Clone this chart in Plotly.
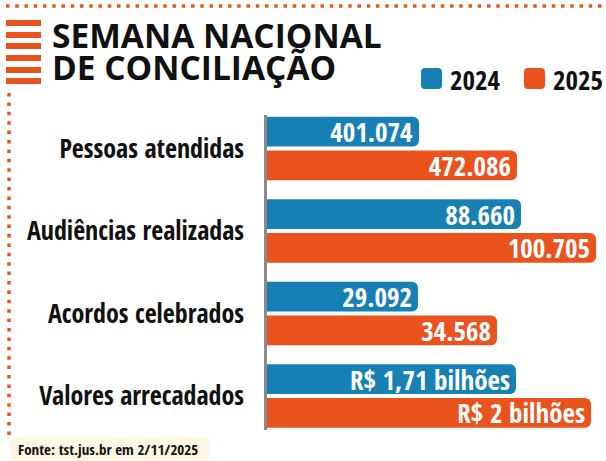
import plotly.graph_objects as go

W, H = 606, 461

# ---- data ----
categories = ["Pessoas atendidas", "Audiências realizadas", "Acordos celebrados", "Valores arrecadados"]
series_names = ["2024", "2025"]
labels_2024 = ["401.074", "88.660", "29.092", "R$ 1,71 bilhões"]
labels_2025 = ["472.086", "100.705", "34.568", "R$ 2 bilhões"]
# visual bar lengths as drawn in the infographic (not to a common scale)
bars_2024 = [152, 254, 151, 249]
bars_2025 = [250, 329, 230, 324]

BLUE = "#1780b5"
ORANGE = "#ea531e"
NARROW = "Noto Sans Condensed, Open Sans Condensed, Liberation Sans Narrow, DejaVu Sans Condensed, sans-serif"


def px(x):
    return x / W


def py(y):
    return 1 - y / H


def rrect(x0, y0, x1, y1, r):
    pts = [
        f"M {px(x0 + r)},{py(y0)}",
        f"L {px(x1 - r)},{py(y0)}",
        f"Q {px(x1)},{py(y0)} {px(x1)},{py(y0 + r)}",
        f"L {px(x1)},{py(y1 - r)}",
        f"Q {px(x1)},{py(y1)} {px(x1 - r)},{py(y1)}",
        f"L {px(x0 + r)},{py(y1)}",
        f"Q {px(x0)},{py(y1)} {px(x0)},{py(y1 - r)}",
        f"L {px(x0)},{py(y0 + r)}",
        f"Q {px(x0)},{py(y0)} {px(x0 + r)},{py(y0)}",
        "Z",
    ]
    return " ".join(pts)


fig = go.Figure()
for name, vals, labs, col in [
    (series_names[0], bars_2024, labels_2024, BLUE),
    (series_names[1], bars_2025, labels_2025, ORANGE),
]:
    fig.add_trace(go.Bar(
        y=categories, x=vals, orientation="h", name=name,
        marker=dict(color=col, cornerradius=6, line=dict(width=0)),
        text=labs, textposition="inside", insidetextanchor="end",
        constraintext="none", cliponaxis=False,
        textfont=dict(family=NARROW, size=27, color="white", weight=700),
        showlegend=False, hoverinfo="skip",
    ))

shapes = []
# dotted border
shapes.append(dict(type="line", xref="paper", yref="paper", x0=px(6), x1=px(602), y0=py(6), y1=py(6),
                   line=dict(color=ORANGE, width=3.5, dash="3.5px,5.75px")))
shapes.append(dict(type="line", xref="paper", yref="paper", x0=px(9), x1=px(9), y0=py(93), y1=py(437),
                   line=dict(color=ORANGE, width=3.5, dash="3.5px,5.9px")))
# title stripes
for yy in [20, 32, 43, 55, 67, 78]:
    shapes.append(dict(type="rect", xref="paper", yref="paper", x0=px(6), x1=px(41), y0=py(yy), y1=py(yy + 6),
                       fillcolor=ORANGE, line=dict(width=0)))
# legend swatches
for x0, col in [(421, BLUE), (524, ORANGE)]:
    shapes.append(dict(type="path", xref="paper", yref="paper", path=rrect(x0, 68, x0 + 21, 89, 4),
                       fillcolor=col, line=dict(width=0)))
# source box
shapes.append(dict(type="path", xref="paper", yref="paper", path=rrect(10, 437, 210, 462, 7),
                   fillcolor="#fdf7e3", line=dict(width=0), layer="below"))

TITLE_FONT = dict(family="Open Sans", size=33.5, color="#111111", weight=800)
annotations = [
    dict(text="<b>SEMANA NACIONAL</b>", x=px(50), y=py(34.5), xanchor="left", yanchor="middle",
         font=TITLE_FONT, showarrow=False, xref="paper", yref="paper"),
    dict(text="<b>DE CONCILIAÇÃO</b>", x=px(50), y=py(66.5), xanchor="left", yanchor="middle",
         font=TITLE_FONT, showarrow=False, xref="paper", yref="paper"),
    dict(text=series_names[0], x=px(448), y=py(79), xanchor="left", yanchor="middle",
         font=dict(family=NARROW, size=27, color="#111111"), showarrow=False,
         xref="paper", yref="paper"),
    dict(text=series_names[1], x=px(551), y=py(79), xanchor="left", yanchor="middle",
         font=dict(family=NARROW, size=27, color="#111111"), showarrow=False,
         xref="paper", yref="paper"),
    dict(text="Fonte: tst.jus.br em 2/11/2025", x=px(16), y=py(449), xanchor="left", yanchor="middle",
         font=dict(family=NARROW, size=15, color="#111111"), showarrow=False,
         xref="paper", yref="paper"),
]

fig.update_layout(
    width=W, height=H, margin=dict(l=0, r=0, t=0, b=0, autoexpand=False),
    paper_bgcolor="white", plot_bgcolor="white",
    barmode="group", bargap=0.18, bargroupgap=0.118,
    uniformtext=dict(minsize=27, mode="show"),
    xaxis=dict(domain=[px(267), 1], range=[0, 339], visible=False, fixedrange=True, automargin=False),
    yaxis=dict(domain=[py(430), py(115)], type="category", categoryorder="array", categoryarray=categories,
               range=[3.412, -0.406], showline=True, linecolor="#8a8a8a", linewidth=2.5,
               showgrid=False, zeroline=False, ticks="", ticklabelstandoff=15, automargin=False,
               tickfont=dict(family=NARROW, size=26, color="#111111"), fixedrange=True),
    shapes=shapes, annotations=annotations,
)

fig.write_html("out.html")
